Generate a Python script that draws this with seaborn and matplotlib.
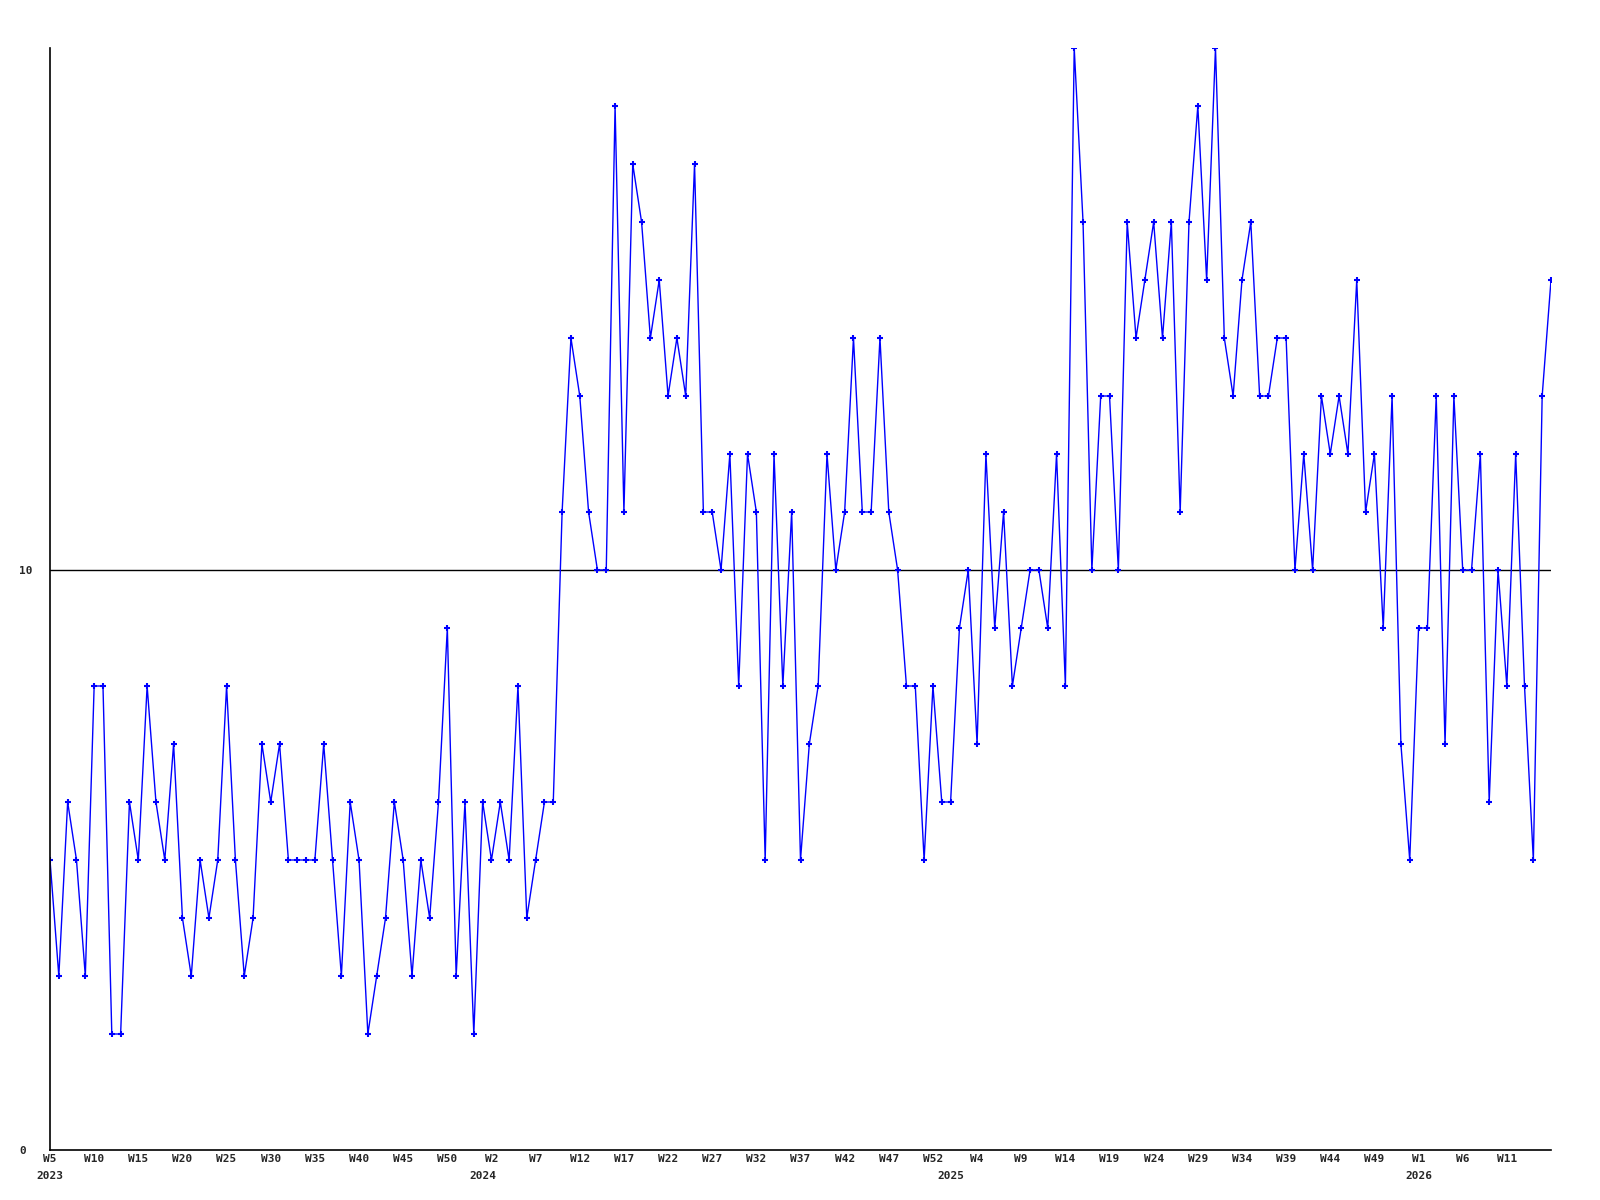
import matplotlib
matplotlib.use("Agg")
import matplotlib.pyplot as plt
import seaborn as sns
import pandas as pd

sns.set_theme(style="white")
plt.rcParams['font.family'] = ['DejaVu Sans Mono', 'DejaVu Sans']

# weekly counts, W5 2023 .. W16 2026 (one value per point)
values_2023 = [5, 3, 6, 5, 3, 8, 8, 2, 2, 6, 5, 8, 6, 5, 7, 4, 3, 5, 4, 5,
               8, 5, 3, 4, 7, 6, 7, 5, 5, 5, 5, 7, 5, 3, 6, 5, 2, 3, 4, 6,
               5, 3, 5, 4, 6, 9, 3, 6, 2]
values_2024 = [6, 5, 6, 5, 8, 4, 5, 6, 6, 11, 14, 13, 11, 10, 10, 18, 11, 17, 16, 14,
               15, 13, 14, 13, 17, 11, 11, 10, 12, 8, 12, 11, 5, 12, 8, 11, 5, 7, 8, 12,
               10, 11, 14, 11, 11, 14, 11, 10, 8, 8, 5, 8, 6]
values_2025 = [6, 9, 10, 7, 12, 9, 11, 8, 9, 10, 10, 9, 12, 8, 19, 16, 10, 13, 13, 10,
               16, 14, 15, 16, 14, 16, 11, 16, 18, 15, 19, 14, 13, 15, 16, 13, 13, 14, 14, 10,
               12, 10, 13, 12, 13, 12, 15, 11, 12, 9, 13, 7, 5]
values_2026 = [9, 9, 13, 7, 13, 10, 10, 12, 6, 10, 8, 12, 8, 5, 13, 15]

week_ticks = ["W5", "W10", "W15", "W20", "W25", "W30", "W35", "W40", "W45", "W50",
              "W2", "W7", "W12", "W17", "W22", "W27", "W32", "W37", "W42", "W47", "W52",
              "W4", "W9", "W14", "W19", "W24", "W29", "W34", "W39", "W44", "W49",
              "W1", "W6", "W11"]
years = ["2023", "2024", "2025", "2026"]
reference_level = 10

values = values_2023 + values_2024 + values_2025 + values_2026
df = pd.DataFrame({"idx": range(len(values)), "count": values})

# first point of each year, where the year label sits
year_starts = [0]
for chunk in (values_2023, values_2024, values_2025):
    year_starts.append(year_starts[-1] + len(chunk))

fig = plt.figure(figsize=(16, 12), dpi=100)
ax = fig.add_axes([50 / 1600, 50 / 1200, 1501 / 1600, 1102 / 1200])

ax.axhline(reference_level, color="black", lw=1.0, zorder=1)
sns.lineplot(data=df, x="idx", y="count", ax=ax, color="#0000ff", lw=1.0,
             marker="+", markersize=4.5, markeredgewidth=1.5,
             markeredgecolor="#0000ff", markerfacecolor="#0000ff", zorder=2)

ax.set_xlim(0, len(values) - 1)
ax.set_ylim(0, 19)
ax.set_xlabel("")
ax.set_ylabel("")

for side in ["top", "right"]:
    ax.spines[side].set_visible(False)
for side in ["left", "bottom"]:
    ax.spines[side].set_color("black")
    ax.spines[side].set_linewidth(1.2)

ax.set_yticks([0, reference_level])
ax.set_yticklabels(["0", "10"], fontsize=8, fontweight="bold", ha="left")
ax.tick_params(axis="y", length=0, pad=22)

# year labels share positions with some week ticks, keep both
ax.xaxis.remove_overlapping_locs = False
ax.set_xticks(range(0, 5 * len(week_ticks), 5))
ax.set_xticklabels(week_ticks, fontsize=8, fontweight="bold")
ax.set_xticks(year_starts, minor=True)
ax.set_xticklabels(years, minor=True, fontsize=8, fontweight="bold")
ax.tick_params(axis="x", which="major", length=0, pad=3)
ax.tick_params(axis="x", which="minor", length=0, pad=15)

fig.savefig("out.png", dpi=100)
